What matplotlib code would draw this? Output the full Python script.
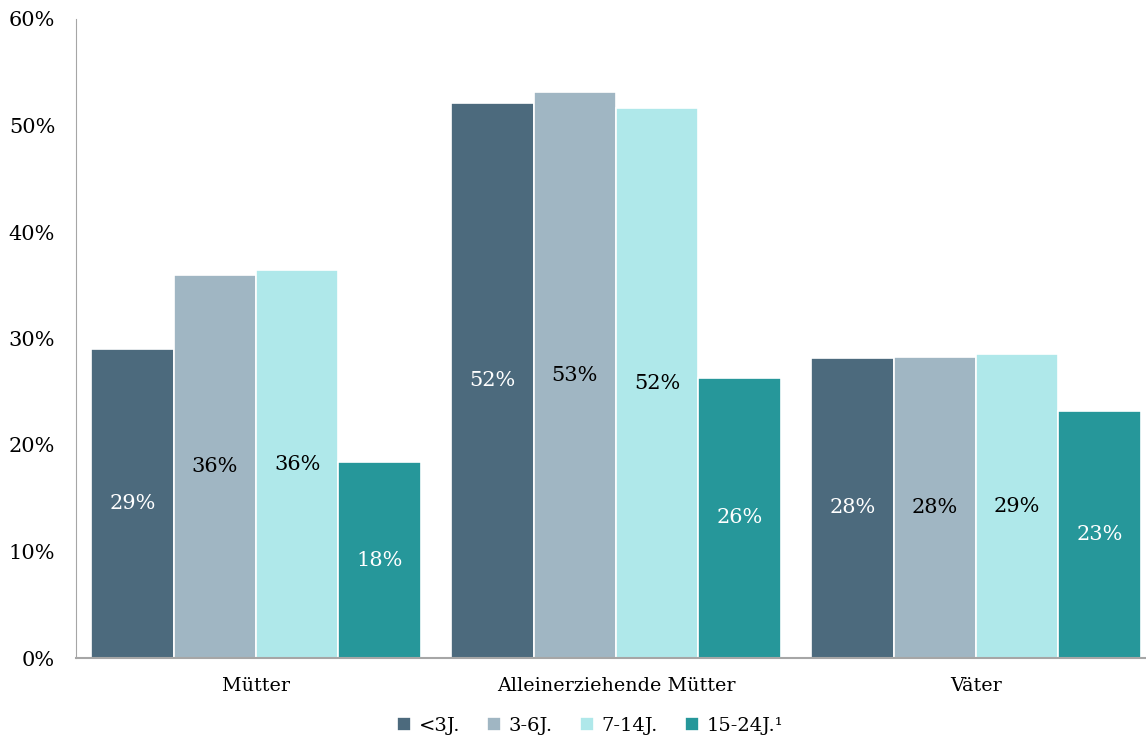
import matplotlib
matplotlib.use("Agg")
import matplotlib.pyplot as plt
import numpy as np

groups = ["Mütter", "Alleinerziehende Mütter", "Väter"]
series = ["<3J.", "3-6J.", "7-14J.", "15-24J.\u00b9"]
values = [
    [29.0, 52.1, 28.2],
    [36.0, 53.1, 28.3],
    [36.4, 51.6, 28.5],
    [18.4, 26.3, 23.2],
]
labels = [
    ["29%", "52%", "28%"],
    ["36%", "53%", "28%"],
    ["36%", "52%", "29%"],
    ["18%", "26%", "23%"],
]
colors = ["#4C6A7D", "#A0B6C3", "#AFE8EA", "#26979A"]
text_colors = ["white", "black", "black", "white"]

plt.rcParams['font.family'] = ['DejaVu Serif']

fig = plt.figure(figsize=(11.46, 7.37), dpi=100)
ax = fig.add_axes([76 / 1146, (737 - 658) / 737, 1080 / 1146, 639 / 737])

x = np.arange(len(groups))
w = 0.2285
for i, (vals, col) in enumerate(zip(values, colors)):
    pos = x + (i - 1.5) * w
    bars = ax.bar(pos, vals, w, color=col, edgecolor="white", linewidth=1.2, label=series[i])
    for b, v, lab in zip(bars, vals, labels[i]):
        ax.text(b.get_x() + b.get_width() / 2, v / 2, lab, ha="center", va="center",
                color=text_colors[i], fontsize=15)

ax.set_xlim(-0.5, 2.5)
ax.set_ylim(0, 60)
ax.set_yticks(range(0, 61, 10))
ax.set_yticklabels([f"{t}%" for t in range(0, 61, 10)], fontsize=15)
ax.set_xticks(x)
ax.set_xticklabels(groups, fontsize=13.8)
ax.tick_params(axis="y", length=0, pad=15)
ax.tick_params(axis="x", length=0, pad=14)
for s in ["top", "right"]:
    ax.spines[s].set_visible(False)
ax.spines["left"].set_color("#A6A6A6")
ax.spines["bottom"].set_color("#A6A6A6")
ax.spines["bottom"].set_linewidth(1.5)

fig.legend(loc="center", bbox_to_anchor=(590 / 1146, 1 - 726 / 737), ncol=4, frameon=False,
           fontsize=14, handlelength=0.7, handleheight=0.7, handletextpad=0.4, columnspacing=1.4)

fig.savefig("out.png", dpi=100)
